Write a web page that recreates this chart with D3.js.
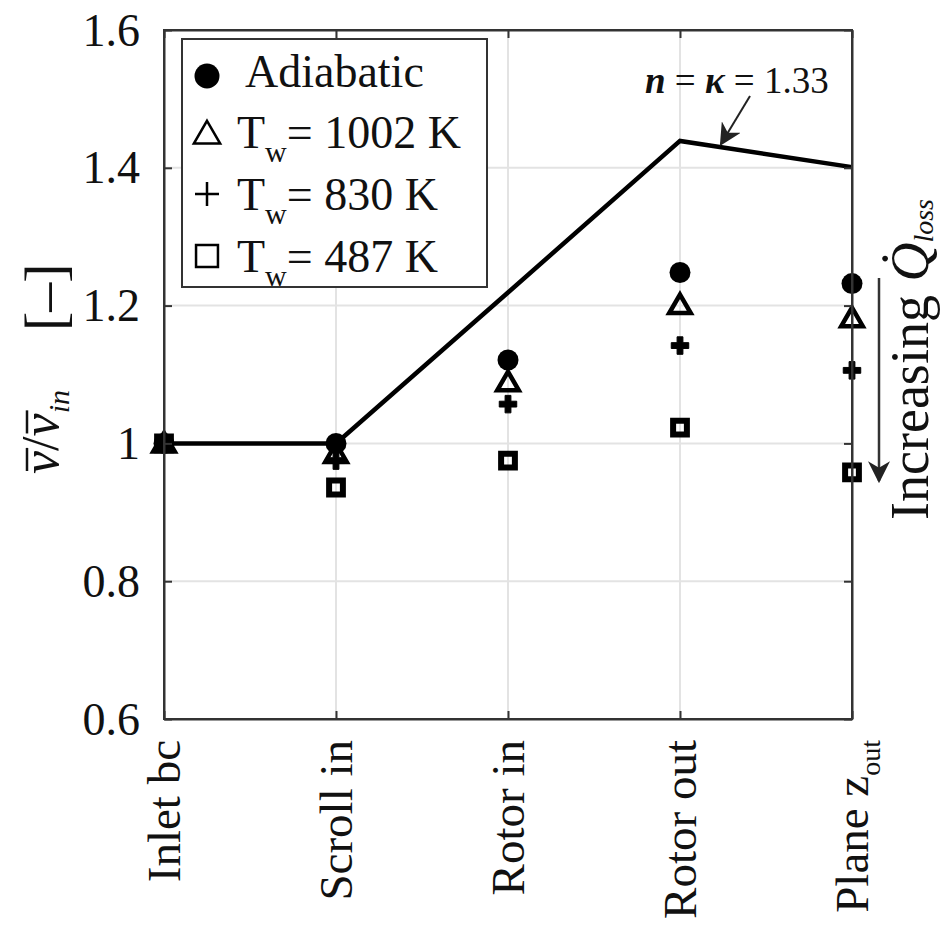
<!DOCTYPE html>
<html>
<head>
<meta charset="utf-8">
<script src="https://cdn.jsdelivr.net/npm/d3@7/dist/d3.min.js"></script>
<style>
  html, body { margin: 0; padding: 0; background: #fff; }
  svg { display: block; }
  text { font-family: "Liberation Serif", "Times New Roman", serif; fill: #111; }
</style>
</head>
<body>
<svg id="chart" width="941" height="927"></svg>
<script>
// ---- data ----
const categories = ["Inlet bc", "Scroll in", "Rotor in", "Rotor out", "Plane z_out"];
const isentropic = [1.0, 1.0, 1.219, 1.439, 1.401];      // n = kappa = 1.33 line
const adiabatic  = [1.0, 1.0, 1.121, 1.248, 1.232];
const tw1002     = [1.0, 0.985, 1.089, 1.201, 1.182];
const tw830      = [1.0, 0.975, 1.057, 1.142, 1.106];
const tw487      = [1.0, 0.936, 0.975, 1.023, 0.958];
const yTicks     = [0.6, 0.8, 1.0, 1.2, 1.4, 1.6];
const legendLabels = ["Adiabatic", "1002 K", "830 K", "487 K"];

// ---- layout ----
const L = 164, R = 852, T = 30, B = 719;
const svg = d3.select("#chart");
const x = d3.scalePoint().domain(categories).range([L, R]).padding(0);
const y = d3.scaleLinear().domain([0.6, 1.6]).range([B, T]);

// grid
const grid = svg.append("g");
grid.selectAll("line.gy").data(yTicks).join("line")
  .attr("x1", L).attr("x2", R).attr("y1", d => y(d)).attr("y2", d => y(d))
  .attr("stroke", "#e3e3e3").attr("stroke-width", 2);
grid.selectAll("line.gx").data(categories).join("line")
  .attr("x1", d => x(d)).attr("x2", d => x(d)).attr("y1", T).attr("y2", B)
  .attr("stroke", "#e3e3e3").attr("stroke-width", 2);

// isentropic line
svg.append("path")
  .datum(categories.map((c, i) => [c, isentropic[i]]))
  .attr("d", d3.line().x(d => x(d[0])).y(d => y(d[1])))
  .attr("fill", "none").attr("stroke", "#000").attr("stroke-width", 4.5)
  .attr("stroke-linejoin", "miter");

// markers
const mk = svg.append("g");
function pts(arr) { return categories.map((c, i) => ({ c, v: arr[i] })); }
mk.selectAll("path.sq").data(pts(tw487)).join("path")
  .attr("d", d3.symbol(d3.symbolSquare, 190)())
  .attr("transform", d => `translate(${x(d.c)},${y(d.v)})`)
  .attr("fill", "none").attr("stroke", "#000").attr("stroke-width", 6);
mk.selectAll("path.pl").data(pts(tw830)).join("path")
  .attr("d", d3.symbol(d3.symbolCross, 170)())
  .attr("transform", d => `translate(${x(d.c)},${y(d.v)})`)
  .attr("fill", "#000").attr("stroke", "#000").attr("stroke-width", 1);
mk.selectAll("path.tr").data(pts(tw1002)).join("path")
  .attr("d", d3.symbol(d3.symbolTriangle, 200)())
  .attr("transform", d => `translate(${x(d.c)},${y(d.v) + 2})`)
  .attr("fill", "none").attr("stroke", "#000").attr("stroke-width", 4.5)
  .attr("stroke-linejoin", "miter");
mk.selectAll("circle").data(pts(adiabatic)).join("circle")
  .attr("cx", d => x(d.c)).attr("cy", d => y(d.v)).attr("r", 10.5)
  .attr("fill", "#000");

// axes
const fmt = d => (d === 1 ? "1" : d3.format(".1f")(d));
const yAx = svg.append("g").attr("transform", `translate(${L},0)`)
  .call(d3.axisLeft(y).tickValues(yTicks).tickFormat(fmt).tickSizeInner(-8).tickSizeOuter(0).tickPadding(24));
const yAxR = svg.append("g").attr("transform", `translate(${R},0)`)
  .call(d3.axisRight(y).tickValues(yTicks).tickFormat("").tickSizeInner(-8).tickSizeOuter(0));
const xAxT = svg.append("g").attr("transform", `translate(0,${T})`)
  .call(d3.axisTop(x).tickFormat("").tickSizeInner(-8).tickSizeOuter(0));
const xAx = svg.append("g").attr("transform", `translate(0,${B})`)
  .call(d3.axisBottom(x).tickSizeInner(-8).tickSizeOuter(0));

[yAx, yAxR, xAxT, xAx].forEach(g => {
  g.select(".domain").attr("stroke", "#333").attr("stroke-width", 2);
  g.selectAll(".tick line").attr("stroke", "#333").attr("stroke-width", 2);
});
yAx.selectAll(".tick text").attr("font-size", 46).attr("font-family", "Liberation Serif").attr("fill", "#111").attr("dy", "0.33em");
xAx.selectAll(".tick text")
  .attr("font-size", 47).attr("font-family", "Liberation Serif").attr("fill", "#111")
  .attr("transform", "rotate(-90)").attr("text-anchor", "end")
  .attr("x", -21).attr("y", 0).attr("dy", "0.34em")
  .each(function (d) {
    if (d.includes("_")) {
      const [a, b] = d.split("_");
      const t = d3.select(this).text(null);
      t.append("tspan").text(a);
      t.append("tspan").attr("font-size", 28).attr("dy", 12).text(b);
    }
  });
svg.append("rect").attr("x", L).attr("y", T).attr("width", R - L).attr("height", B - T)
  .attr("fill", "none").attr("stroke", "#333").attr("stroke-width", 2);

// y label
const ylg = svg.append("g").attr("transform", "translate(58,474) rotate(-90)");
const yl = ylg.append("text").attr("font-size", 52).attr("font-style", "italic");
yl.append("tspan").text("v");
yl.append("tspan").attr("font-style", "normal").text("/");
yl.append("tspan").text("v");
yl.append("tspan").attr("font-size", 30).attr("dy", 11).text("in");
const ylNode = yl.node();
[0, 2].forEach(ci => {
  const s = ylNode.getStartPositionOfChar(ci).x;
  const e = ylNode.getEndPositionOfChar(ci).x;
  ylg.append("line").attr("x1", s + 3).attr("x2", e + 3).attr("y1", -31).attr("y2", -31)
    .attr("stroke", "#111").attr("stroke-width", 2.5);
});
svg.append("text").attr("transform", "translate(64,331) rotate(-90)")
  .attr("font-size", 58).text("[–]");

// legend
const lg = svg.append("g");
lg.append("rect").attr("x", 182).attr("y", 39).attr("width", 305).attr("height", 248)
  .attr("fill", "#fff").attr("stroke", "#333").attr("stroke-width", 2);
const rowsY = [76, 133, 194, 256];
const lgSyms = ["circle", "triangle", "cross", "square"];
lgSyms.forEach((s, i) => {
  if (s === "circle") {
    lg.append("circle").attr("cx", 207).attr("cy", rowsY[i]).attr("r", 12.5).attr("fill", "#000");
  } else if (s === "cross") {
    lg.append("path").attr("d", "M-12,0H12M0,-12V12")
      .attr("transform", `translate(207,${rowsY[i]})`).attr("stroke", "#000").attr("stroke-width", 2.5);
  } else {
    const st = s === "square" ? d3.symbolSquare : d3.symbolTriangle;
    lg.append("path").attr("d", d3.symbol(st, s === "square" ? 480 : 300)())
      .attr("transform", `translate(207,${rowsY[i] + (s === "triangle" ? 3 : 0)})`)
      .attr("fill", "none").attr("stroke", "#000").attr("stroke-width", 2.5);
  }
});
const baseY = [87, 148, 210, 272];
legendLabels.forEach((lab, i) => {
  const t = lg.append("text").attr("font-size", 46).attr("y", baseY[i]);
  if (i === 0) {
    t.attr("x", 245).text(lab);
  } else {
    t.attr("x", 237);
    t.append("tspan").text("T");
    t.append("tspan").attr("font-size", 30).attr("dy", 14).text("w");
    t.append("tspan").attr("dy", -14).text("= " + lab);
  }
});

// annotation n = kappa = 1.33
const an = svg.append("text").attr("x", 645).attr("y", 93).attr("font-size", 37);
an.append("tspan").attr("font-style", "italic").attr("font-weight", "bold").text("n");
an.append("tspan").text(" = ");
an.append("tspan").attr("font-style", "italic").attr("font-weight", "bold").text("κ");
an.append("tspan").text(" = 1.33");

svg.append("defs").append("marker").attr("id", "ah").attr("viewBox", "0 0 10 10")
  .attr("refX", 9).attr("refY", 5).attr("markerWidth", 22).attr("markerHeight", 22)
  .attr("markerUnits", "userSpaceOnUse").attr("orient", "auto")
  .append("path").attr("d", "M0,0L10,5L0,10L3,5Z").attr("fill", "#222");

svg.append("line").attr("x1", 750).attr("y1", 96).attr("x2", 721).attr("y2", 144)
  .attr("stroke", "#222").attr("stroke-width", 2).attr("marker-end", "url(#ah)");

// right arrow and label
svg.append("line").attr("x1", 879).attr("y1", 278).attr("x2", 879).attr("y2", 481)
  .attr("stroke", "#333").attr("stroke-width", 2.5).attr("marker-end", "url(#ah)");
const rl = svg.append("text").attr("transform", "translate(928,520) rotate(-90)").attr("font-size", 54);
rl.append("tspan").text("Increasing ");
rl.append("tspan").attr("font-style", "italic").text("Q\u0307");
rl.append("tspan").attr("font-style", "italic").attr("font-size", 28).attr("dy", 5).text("loss");
</script>
</body>
</html>
